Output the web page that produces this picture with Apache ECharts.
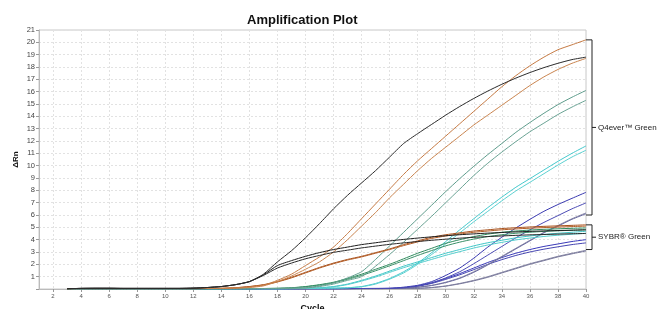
<!DOCTYPE html>
<html>
<head>
<meta charset="utf-8">
<script src="https://cdn.jsdelivr.net/npm/echarts@6/dist/echarts.min.js"></script>
<style>
  html,body{margin:0;padding:0;background:#fff;}
  #main{width:665px;height:309px;}
</style>
</head>
<body>
<div id="main"></div>
<script>
// cycle numbers (x values)
var cycles = [3,4,5,6,7,8,9,10,11,12,13,14,15,16,17,18,19,20,21,22,23,24,25,26,27,28,29,30,31,32,33,34,35,36,37,38,39,40]
var xTicks = [2,4,6,8,10,12,14,16,18,20,22,24,26,28,30,32,34,36,38,40]

// Q4ever Green curves
var q4Black   = [0.02,0.05,0.06,0.06,0.05,0.05,0.05,0.05,0.05,0.07,0.12,0.2,0.35,0.6,1.2,2.2,3.1,4.15,5.3,6.5,7.6,8.6,9.6,10.7,11.8,12.6,13.35,14.1,14.8,15.45,16.05,16.6,17.1,17.55,17.95,18.3,18.6,18.8]
var q4OrangeA = [0.02,0.03,0.03,0.03,0.03,0.03,0.03,0.03,0.03,0.03,0.04,0.05,0.08,0.15,0.3,0.7,1.2,1.9,2.6,3.4,4.5,5.7,6.9,8.1,9.3,10.4,11.4,12.4,13.4,14.4,15.4,16.4,17.3,18.1,18.8,19.4,19.8,20.2]
var q4OrangeB = [0.02,0.03,0.03,0.03,0.03,0.03,0.03,0.03,0.03,0.03,0.04,0.05,0.07,0.12,0.25,0.6,1.05,1.6,2.2,3.0,4.0,5.1,6.2,7.4,8.5,9.6,10.6,11.5,12.4,13.3,14.1,14.9,15.7,16.5,17.2,17.8,18.3,18.7]
var q4TealA   = [0.02,0.02,0.02,0.02,0.02,0.02,0.02,0.02,0.02,0.02,0.02,0.02,0.03,0.03,0.04,0.05,0.07,0.1,0.25,0.5,0.9,1.4,2.4,3.5,4.6,5.7,6.8,7.9,8.95,9.95,10.9,11.8,12.7,13.5,14.25,14.95,15.55,16.1]
var q4TealB   = [0.02,0.02,0.02,0.02,0.02,0.02,0.02,0.02,0.02,0.02,0.02,0.02,0.03,0.03,0.04,0.05,0.06,0.08,0.2,0.4,0.7,1.0,1.85,2.8,3.8,4.85,5.9,7.0,8.1,9.2,10.2,11.1,11.95,12.75,13.45,14.15,14.75,15.3]
var q4CyanA   = [0.01,0.01,0.01,0.01,0.01,0.01,0.01,0.01,0.01,0.01,0.01,0.01,0.01,0.02,0.02,0.02,0.03,0.04,0.05,0.07,0.1,0.2,0.45,0.85,1.4,2.1,2.95,3.85,4.8,5.7,6.6,7.45,8.25,8.95,9.65,10.35,11.0,11.6]
var q4CyanB   = [0.01,0.01,0.01,0.01,0.01,0.01,0.01,0.01,0.01,0.01,0.01,0.01,0.01,0.02,0.02,0.02,0.03,0.04,0.05,0.07,0.1,0.18,0.4,0.8,1.3,2.0,2.8,3.65,4.55,5.45,6.3,7.15,7.95,8.65,9.35,10.05,10.7,11.25]
var q4BlueA   = [0.0,0.0,0.0,0.0,0.0,0.0,0.0,0.0,0.0,0.0,0.0,0.0,0.0,0.01,0.01,0.01,0.01,0.02,0.02,0.02,0.03,0.04,0.05,0.05,0.15,0.3,0.6,1.1,1.7,2.5,3.4,4.2,4.95,5.65,6.3,6.85,7.35,7.84]
var q4BlueB   = [0.0,0.0,0.0,0.0,0.0,0.0,0.0,0.0,0.0,0.0,0.0,0.0,0.0,0.01,0.01,0.01,0.01,0.02,0.02,0.02,0.03,0.04,0.04,0.05,0.1,0.25,0.5,0.9,1.4,2.05,2.75,3.45,4.15,4.8,5.4,5.95,6.5,6.98]
var q4GreyA   = [0.0,0.0,0.0,0.0,0.0,0.0,0.0,0.0,0.0,0.0,0.0,0.0,0.0,0.0,0.01,0.01,0.01,0.01,0.02,0.02,0.02,0.03,0.03,0.04,0.05,0.15,0.3,0.55,0.9,1.4,2.0,2.65,3.3,3.95,4.6,5.15,5.7,6.17]
var q4GreyB   = [0.0,0.0,0.0,0.0,0.0,0.0,0.0,0.0,0.0,0.0,0.0,0.0,0.0,0.0,0.01,0.01,0.01,0.01,0.02,0.02,0.02,0.03,0.03,0.04,0.05,0.14,0.28,0.52,0.86,1.35,1.95,2.6,3.25,3.9,4.55,5.1,5.65,6.1]

// SYBR Green curves
var sbBlackA  = [0.02,0.05,0.06,0.06,0.05,0.05,0.05,0.05,0.05,0.07,0.12,0.2,0.35,0.6,1.15,1.9,2.3,2.65,2.95,3.2,3.4,3.6,3.75,3.9,4.02,4.13,4.23,4.32,4.4,4.47,4.53,4.58,4.63,4.67,4.71,4.74,4.77,4.8]
var sbBlackB  = [0.02,0.05,0.06,0.06,0.05,0.05,0.05,0.05,0.05,0.07,0.12,0.2,0.35,0.6,1.1,1.7,2.1,2.45,2.72,2.97,3.15,3.33,3.48,3.62,3.74,3.85,3.95,4.04,4.12,4.19,4.25,4.3,4.35,4.39,4.42,4.45,4.48,4.5]
var sbOrangeA = [0.02,0.03,0.03,0.03,0.03,0.03,0.03,0.03,0.03,0.03,0.04,0.05,0.1,0.2,0.35,0.6,0.95,1.35,1.75,2.1,2.4,2.65,2.95,3.25,3.6,3.9,4.2,4.4,4.55,4.7,4.8,4.9,4.97,5.03,5.08,5.12,5.16,5.2]
var sbOrangeB = [0.02,0.03,0.03,0.03,0.03,0.03,0.03,0.03,0.03,0.03,0.04,0.05,0.1,0.19,0.33,0.57,0.9,1.3,1.7,2.05,2.35,2.6,2.9,3.2,3.52,3.82,4.1,4.3,4.46,4.6,4.7,4.8,4.87,4.93,4.98,5.02,5.06,5.1]
var sbGreenA  = [0.02,0.02,0.02,0.02,0.02,0.02,0.02,0.02,0.02,0.02,0.02,0.02,0.03,0.03,0.04,0.05,0.1,0.2,0.35,0.55,0.85,1.2,1.6,2.0,2.45,2.9,3.3,3.7,4.0,4.25,4.45,4.6,4.7,4.78,4.84,4.88,4.92,4.95]
var sbGreenB  = [0.02,0.02,0.02,0.02,0.02,0.02,0.02,0.02,0.02,0.02,0.02,0.02,0.03,0.03,0.04,0.05,0.09,0.18,0.32,0.5,0.78,1.1,1.48,1.88,2.3,2.72,3.12,3.5,3.8,4.05,4.25,4.4,4.52,4.6,4.67,4.72,4.76,4.8]
var sbCyanA   = [0.01,0.01,0.01,0.01,0.01,0.01,0.01,0.01,0.01,0.01,0.01,0.01,0.01,0.02,0.02,0.02,0.03,0.05,0.1,0.2,0.4,0.7,1.05,1.45,1.85,2.2,2.55,2.9,3.2,3.5,3.75,3.95,4.15,4.3,4.42,4.52,4.6,4.68]
var sbCyanB   = [0.01,0.01,0.01,0.01,0.01,0.01,0.01,0.01,0.01,0.01,0.01,0.01,0.01,0.02,0.02,0.02,0.03,0.05,0.09,0.18,0.36,0.64,0.97,1.35,1.73,2.07,2.4,2.73,3.03,3.32,3.57,3.78,3.98,4.13,4.26,4.36,4.44,4.52]
var sbBlueA   = [0.0,0.0,0.0,0.0,0.0,0.0,0.0,0.0,0.0,0.0,0.0,0.0,0.0,0.01,0.01,0.01,0.01,0.02,0.02,0.02,0.03,0.04,0.04,0.05,0.1,0.25,0.5,0.85,1.25,1.7,2.15,2.55,2.9,3.2,3.45,3.65,3.85,4.0]
var sbBlueB   = [0.0,0.0,0.0,0.0,0.0,0.0,0.0,0.0,0.0,0.0,0.0,0.0,0.0,0.01,0.01,0.01,0.01,0.02,0.02,0.02,0.03,0.04,0.04,0.05,0.09,0.22,0.45,0.78,1.15,1.57,2.0,2.38,2.72,3.0,3.23,3.42,3.6,3.74]
var sbGreyA   = [0.0,0.0,0.0,0.0,0.0,0.0,0.0,0.0,0.0,0.0,0.0,0.0,0.0,0.0,0.01,0.01,0.01,0.01,0.02,0.02,0.02,0.03,0.03,0.04,0.04,0.05,0.12,0.25,0.45,0.7,1.0,1.35,1.7,2.05,2.35,2.65,2.9,3.14]
var sbGreyB   = [0.0,0.0,0.0,0.0,0.0,0.0,0.0,0.0,0.0,0.0,0.0,0.0,0.0,0.0,0.01,0.01,0.01,0.01,0.02,0.02,0.02,0.03,0.03,0.04,0.04,0.05,0.11,0.23,0.42,0.66,0.95,1.3,1.65,2.0,2.3,2.6,2.85,3.08]

// bracket ranges on the right (ΔRn values)
var q4Range   = [6.0, 20.2]
var sybrRange = [3.2, 5.2]

var curves = [
    ['SYBR grey A', sbGreyA, '#8585a3'],
    ['SYBR grey B', sbGreyB, '#7a7a9c'],
    ['SYBR blue A', sbBlueA, '#3838b8'],
    ['SYBR blue B', sbBlueB, '#4444b0'],
    ['Q4 grey A', q4GreyA, '#8a8aa6'],
    ['Q4 grey B', q4GreyB, '#6c6ca0'],
    ['Q4 blue A', q4BlueA, '#3a3ab0'],
    ['Q4 blue B', q4BlueB, '#4b4bb4'],
    ['SYBR cyan A', sbCyanA, '#3fc6c6'],
    ['SYBR cyan B', sbCyanB, '#52cccc'],
    ['Q4 cyan A', q4CyanA, '#45c8cc'],
    ['Q4 cyan B', q4CyanB, '#5cd0d0'],
    ['SYBR green A', sbGreenA, '#2e8a5c'],
    ['SYBR green B', sbGreenB, '#3a9068'],
    ['Q4 teal A', q4TealA, '#5e9c8c'],
    ['Q4 teal B', q4TealB, '#6aa394'],
    ['SYBR orange A', sbOrangeA, '#a8521e'],
    ['SYBR orange B', sbOrangeB, '#b35e28'],
    ['Q4 orange A', q4OrangeA, '#c57a44'],
    ['Q4 orange B', q4OrangeB, '#c9844f'],
    ['SYBR black A', sbBlackA, '#1e1e1e'],
    ['SYBR black B', sbBlackB, '#2a2a2a'],
    ['Q4 black', q4Black, '#2b2b2b']
]

var chart = echarts.init(document.getElementById('main'))

var series = curves.map(function(c){
    return {
        name: c[0],
        type: 'line',
        data: cycles.map(function(x, i){ return [x, c[1][i]] }),
        showSymbol: false,
        smooth: 0.2,
        lineStyle: {width: 1, color: c[2]},
        silent: true
    }
})

var option = {
    animation: false,
    title: {
        text: 'Amplification Plot',
        left: 242,
        top: 9,
        textStyle: {fontFamily: 'Liberation Sans', fontSize: 13, fontWeight: 'bold', color: '#111'}
    },
    grid: {
        left: 39, right: 79, top: 30, bottom: 20,
        outerBoundsMode: 'none', containLabel: false,
        show: true, borderColor: '#c8c8c8', borderWidth: 1
    },
    xAxis: {
        type: 'value', min: 1, max: 40,
        name: 'Cycle', nameLocation: 'middle', nameGap: 15,
        nameTextStyle: {fontFamily: 'Liberation Sans', fontSize: 9, fontWeight: 'bold', color: '#111'},
        axisLine: {lineStyle: {color: '#bbb'}},
        axisTick: {customValues: xTicks, length: 3, lineStyle: {color: '#999'}},
        axisLabel: {customValues: xTicks, fontFamily: 'Liberation Sans', fontSize: 6, color: '#555', margin: 4},
        splitLine: {show: true, lineStyle: {color: '#e2e2e2', type: [2, 2]}}
    },
    yAxis: {
        type: 'value', min: 0, max: 21, interval: 1,
        name: 'ΔRn', nameLocation: 'middle', nameGap: 19, nameRotate: 90,
        nameMoveOverlap: false,
        nameTextStyle: {fontFamily: 'Liberation Sans', fontSize: 8, fontWeight: 'bold', color: '#111'},
        axisLine: {show: true, lineStyle: {color: '#bbb'}},
        axisTick: {show: true, length: 3, lineStyle: {color: '#999'}},
        axisLabel: {
            fontFamily: 'Liberation Sans', fontSize: 7.5, color: '#444', margin: 4,
            formatter: function(v){ return v === 0 ? '' : v }
        },
        splitLine: {show: true, lineStyle: {color: '#e2e2e2', type: [2, 2]}}
    },
    series: series
}
chart.setOption(option)

// brackets + labels on the right side
function bracket(range, label){
    var top = chart.convertToPixel({gridIndex: 0}, [40, range[1]])
    var bot = chart.convertToPixel({gridIndex: 0}, [40, range[0]])
    var bx = top[0] + 6
    var mid = (top[1] + bot[1]) / 2
    var st = {stroke: '#222', lineWidth: 1}
    return [
        {type: 'polyline', shape: {points: [[top[0], top[1]], [bx, top[1]], [bx, bot[1]], [bot[0], bot[1]]]}, style: {stroke: '#222', lineWidth: 1, fill: null}},
        {type: 'line', shape: {x1: bx, y1: mid, x2: bx + 4, y2: mid}, style: st},
        {type: 'text', x: bx + 6, y: mid, style: {text: label, fontFamily: 'Liberation Sans', fontSize: 8, fill: '#222', verticalAlign: 'middle'}}
    ]
}
chart.setOption({
    graphic: bracket(q4Range, 'Q4ever™ Green').concat(bracket(sybrRange, 'SYBR® Green'))
})
</script>
</body>
</html>
